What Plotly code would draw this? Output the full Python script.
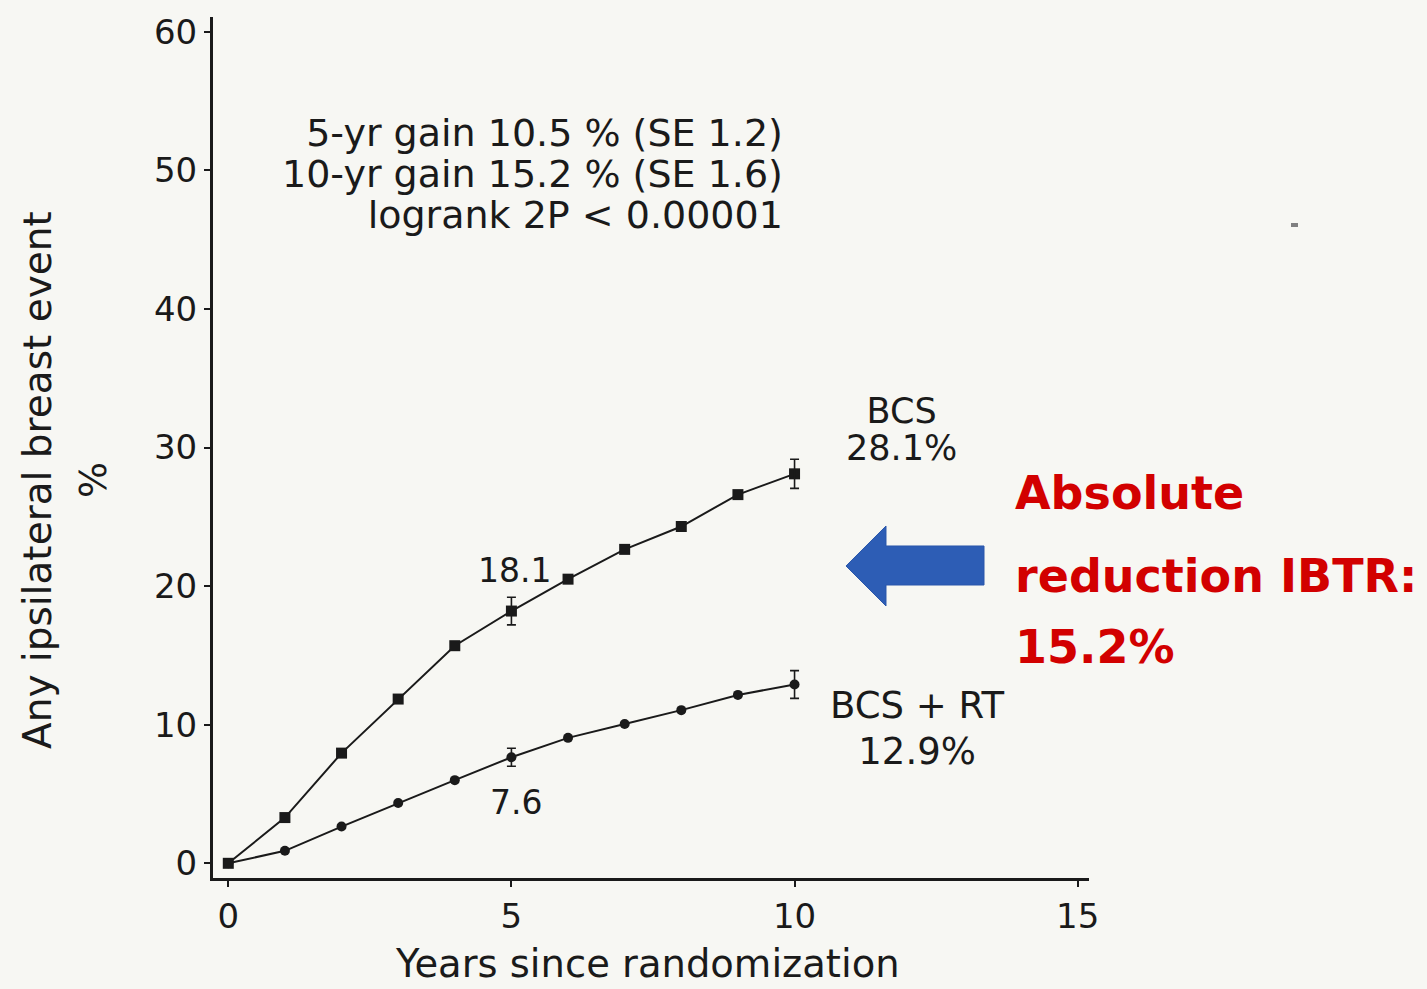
import plotly.graph_objects as go

# ---- data ----
years = [0, 1, 2, 3, 4, 5, 6, 7, 8, 9, 10]
bcs = [0.0, 3.3, 7.95, 11.85, 15.7, 18.2, 20.5, 22.65, 24.3, 26.6, 28.1]
bcs_rt = [0.0, 0.9, 2.65, 4.35, 6.0, 7.65, 9.05, 10.05, 11.05, 12.15, 12.9]
err_idx = [5, 10]
bcs_err = [1.0, 1.05]
bcs_rt_err = [0.65, 1.0]

x_ticks = [0, 5, 10, 15]
y_ticks = [0, 10, 20, 30, 40, 50, 60]

stats_lines = ["5-yr gain 10.5 % (SE 1.2)", "10-yr gain 15.2 % (SE 1.6)", "logrank 2P < 0.00001"]
red_lines = ["Absolute", "reduction IBTR:", "15.2%"]

W, H = 1427, 989
ML, MR, MT, MB = 213, 338, 17, 111
PW, PH = W - ML - MR, H - MT - MB


def px(xp):
    return (xp - ML) / PW


def py(yp):
    return (H - MB - yp) / PH


def sized(lines, size):
    return "<br>".join(f'<span style="font-size:{size}px">{t}</span>' for t in lines)


BG = "#f7f7f3"
INK = "#1a1a1a"
FONT = "DejaVu Sans"

fig = go.Figure()

fig.add_trace(go.Scatter(
    x=years, y=bcs, mode="lines+markers",
    line=dict(color=INK, width=2),
    marker=dict(symbol="square", size=11, color=INK),
    showlegend=False, hoverinfo="skip"))
fig.add_trace(go.Scatter(
    x=years, y=bcs_rt, mode="lines+markers",
    line=dict(color=INK, width=2),
    marker=dict(symbol="circle", size=10, color=INK),
    showlegend=False, hoverinfo="skip"))

for series, errs in ((bcs, bcs_err), (bcs_rt, bcs_rt_err)):
    fig.add_trace(go.Scatter(
        x=[years[i] for i in err_idx], y=[series[i] for i in err_idx],
        mode="markers", marker=dict(size=1, color="rgba(0,0,0,0)"),
        error_y=dict(type="data", array=errs, visible=True,
                     color=INK, thickness=1.6, width=4.5),
        showlegend=False, hoverinfo="skip"))

fig.update_layout(
    width=W, height=H,
    margin=dict(l=ML, r=MR, t=MT, b=MB, autoexpand=False),
    paper_bgcolor=BG, plot_bgcolor=BG,
    font=dict(family=FONT, color=INK),
    xaxis=dict(range=[-0.27, 15.2], tickvals=x_ticks, ticktext=[str(v) for v in x_ticks],
               automargin=False,
               showgrid=False, zeroline=False, showline=True, linecolor=INK, linewidth=3,
               ticks="outside", ticklen=6, tickwidth=1.5, tickcolor=INK,
               tickfont=dict(family=FONT, size=34, color=INK)),
    yaxis=dict(range=[-1.06, 61.06], tickvals=y_ticks, ticktext=[str(v) for v in y_ticks],
               automargin=False,
               showgrid=False, zeroline=False, showline=True, linecolor=INK, linewidth=3,
               ticks="outside", ticklen=6, tickwidth=1.5, tickcolor=INK,
               tickfont=dict(family=FONT, size=34, color=INK)),
)

ann = []
# x-axis title
ann.append(dict(text="Years since randomization", xref="paper", yref="paper",
                x=px(647), y=py(963), showarrow=False, xanchor="center", yanchor="middle",
                font=dict(family=FONT, size=38.5, color=INK)))
# y-axis title (two lines)
ann.append(dict(text="Any ipsilateral breast event", xref="paper", yref="paper",
                x=px(37), y=py(480), textangle=-90, showarrow=False,
                font=dict(family=FONT, size=39, color=INK), xanchor="center", yanchor="middle"))
ann.append(dict(text="%", xref="paper", yref="paper",
                x=px(93), y=py(480), textangle=-90, showarrow=False,
                font=dict(family=FONT, size=38, color=INK), xanchor="center", yanchor="middle"))

# stats block (one text, tight line spacing)
ann.append(dict(text=sized(stats_lines, 38), xref="paper", yref="paper", x=px(785), y=py(174),
                showarrow=False, xanchor="right", yanchor="middle", align="right",
                font=dict(family=FONT, size=31.5, color=INK)))

# point labels
ann.append(dict(text="18.1", xref="paper", yref="paper", x=px(514), y=py(570),
                showarrow=False, xanchor="center", yanchor="middle",
                font=dict(family=FONT, size=33, color=INK)))
ann.append(dict(text="7.6", xref="paper", yref="paper", x=px(516), y=py(802),
                showarrow=False, xanchor="center", yanchor="middle",
                font=dict(family=FONT, size=33, color=INK)))
ann.append(dict(text=sized(["BCS", "28.1%"], 35), xref="paper", yref="paper", x=px(901), y=py(430),
                showarrow=False, xanchor="center", yanchor="middle", align="center",
                font=dict(family=FONT, size=28.5, color=INK)))
ann.append(dict(text=sized(["BCS + RT", "12.9%"], 37), xref="paper", yref="paper", x=px(917), y=py(728),
                showarrow=False, xanchor="center", yanchor="middle", align="center",
                font=dict(family=FONT, size=35.5, color=INK)))

# red callout
for line, yc in zip(red_lines, [493, 576, 647]):
    ann.append(dict(text=line, xref="paper", yref="paper", x=px(1013), y=py(yc),
                    showarrow=False, xanchor="left", yanchor="middle",
                    font=dict(family="DejaVu Sans", size=46, color="#d20000", weight="bold")))

fig.update_layout(annotations=ann)

# blue block arrow
pts = [(846, 566), (886, 526), (886, 546), (984, 546), (984, 585), (886, 585), (886, 606)]
path = "M " + " L ".join(f"{px(a):.5f},{py(b):.5f}" for a, b in pts) + " Z"
fig.add_shape(type="path", path=path, xref="paper", yref="paper",
              fillcolor="#2d5db5", line=dict(color="#2a57aa", width=1))

# small grey speck at the right of the reference
fig.add_shape(type="rect", xref="paper", yref="paper",
              x0=px(1291), x1=px(1298), y0=py(227), y1=py(223),
              fillcolor="#808080", line=dict(width=0))

fig.write_html("out.html")
